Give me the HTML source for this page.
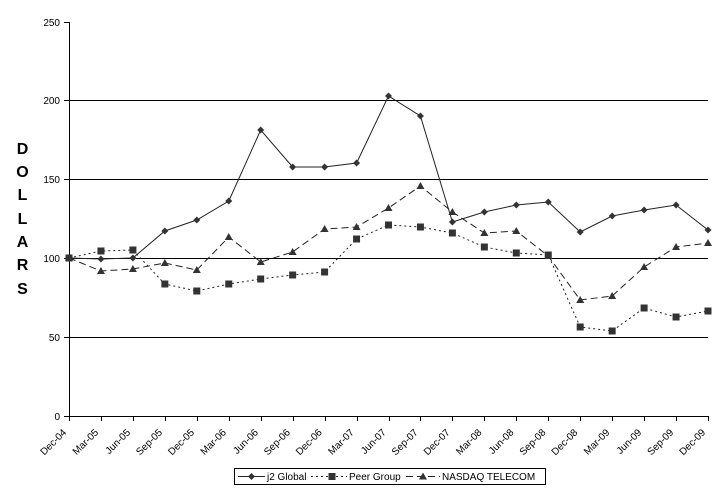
<!DOCTYPE html>
<html><head><meta charset="utf-8"><style>
html,body{margin:0;padding:0;background:#fff;}
svg{display:block;font-family:"Liberation Sans",Arial,sans-serif;}
</style></head><body>
<svg width="721" height="493" viewBox="0 0 721 493" xmlns="http://www.w3.org/2000/svg">
<rect width="721" height="493" fill="#fff"/>
<!-- DOLLARS -->
<g font-weight="bold" font-size="16" text-anchor="middle" fill="#000">
<text x="22.5" y="154">D</text>
<text x="22.5" y="177">O</text>
<text x="22.5" y="200">L</text>
<text x="22.5" y="224">L</text>
<text x="22.5" y="247">A</text>
<text x="22.5" y="270">R</text>
<text x="22.5" y="294">S</text>
</g>
<!-- gridlines -->
<g stroke="#000" stroke-width="1">
<line x1="69" y1="100.5" x2="708" y2="100.5"/>
<line x1="69" y1="179.5" x2="708" y2="179.5"/>
<line x1="69" y1="258.5" x2="708" y2="258.5"/>
<line x1="69" y1="337.5" x2="708" y2="337.5"/>
<line x1="69.5" y1="22" x2="69.5" y2="416"/>
<line x1="69" y1="416.5" x2="708" y2="416.5"/>
<line x1="64" y1="22.5" x2="69" y2="22.5"/>
<line x1="64" y1="100.5" x2="69" y2="100.5"/>
<line x1="64" y1="179.5" x2="69" y2="179.5"/>
<line x1="64" y1="258.5" x2="69" y2="258.5"/>
<line x1="64" y1="337.5" x2="69" y2="337.5"/>
<line x1="64" y1="416.5" x2="69" y2="416.5"/>
</g>
<g id="xticks" stroke="#000" stroke-width="1"></g>
<g font-size="10" text-anchor="end" fill="#000">
<text x="60" y="26">250</text>
<text x="60" y="104">200</text>
<text x="60" y="183">150</text>
<text x="60" y="262">100</text>
<text x="60" y="341">50</text>
<text x="60" y="420">0</text>
</g>
<g id="xlabels" font-size="10" text-anchor="end" fill="#000"></g>
<g id="series"></g>
<!-- legend -->
<rect x="234.5" y="468.5" width="311" height="16" fill="#fff" stroke="#000" stroke-width="1"/>
<line x1="238" y1="476.5" x2="265" y2="476.5" stroke="#222" stroke-width="1"/>
<polygon points="251.5,473 255,476.5 251.5,480 248,476.5" fill="#333"/>
<text x="267" y="480" font-size="10" fill="#000">j2 Global</text>
<line x1="311" y1="476.5" x2="347" y2="476.5" stroke="#222" stroke-width="1" stroke-dasharray="2,3"/>
<rect x="328.5" y="473" width="7" height="7" fill="#333"/>
<text x="349" y="480" font-size="10" fill="#000">Peer Group</text>
<line x1="406" y1="476.5" x2="440" y2="476.5" stroke="#222" stroke-width="1" stroke-dasharray="7,4"/>
<polygon points="423,472.5 427,479.5 419,479.5" fill="#333"/>
<text x="442" y="480" font-size="10" fill="#000">NASDAQ TELECOM</text>
</svg>
<script>
(function(){
var NS="http://www.w3.org/2000/svg";
var labels=["Dec-04","Mar-05","Jun-05","Sep-05","Dec-05","Mar-06","Jun-06","Sep-06","Dec-06","Mar-07","Jun-07","Sep-07","Dec-07","Mar-08","Jun-08","Sep-08","Dec-08","Mar-09","Jun-09","Sep-09","Dec-09"];
function X(i){return 69+i*31.95;}
var xt=document.getElementById("xticks"),xl=document.getElementById("xlabels");
for(var i=0;i<21;i++){
 var x=Math.round(X(i))+0.5;
 var l=document.createElementNS(NS,"line");
 l.setAttribute("x1",x);l.setAttribute("x2",x);l.setAttribute("y1",416);l.setAttribute("y2",421);
 xt.appendChild(l);
 var t=document.createElementNS(NS,"text");
 var tx=X(i)-2, ty=433;
 t.setAttribute("x",tx);t.setAttribute("y",ty);
 t.setAttribute("transform","rotate(-45 "+tx+" "+ty+")");
 t.textContent=labels[i];
 xl.appendChild(t);
}
var j2=[258,259,258,231,220,201,130,167,167,163,96,116,222,212,205,202,232,216,210,205,230];
var peer=[258,251,250,284,291,284,279,275,272,239,225,227,233,247,253,255,327,331,308,317,311];
var nas=[258,271,269,263,270,237,262,252,229,227,208,186,212,233,231,256,300,296,267,247,243];
var s=document.getElementById("series");
function line(d,dash){
 var p=document.createElementNS(NS,"polyline");
 var pts=d.map(function(y,i){return X(i).toFixed(1)+","+y;}).join(" ");
 p.setAttribute("points",pts);p.setAttribute("fill","none");p.setAttribute("stroke","#222");p.setAttribute("stroke-width","1");
 if(dash)p.setAttribute("stroke-dasharray",dash);
 s.appendChild(p);
}
line(nas,"7,4");line(peer,"2,3");line(j2,null);
function poly(pts){var p=document.createElementNS(NS,"polygon");p.setAttribute("points",pts);p.setAttribute("fill","#333");s.appendChild(p);}
nas.forEach(function(y,i){var x=X(i);poly((x)+","+(y-4)+" "+(x+4)+","+(y+3)+" "+(x-4)+","+(y+3));});
peer.forEach(function(y,i){var x=X(i);var r=document.createElementNS(NS,"rect");r.setAttribute("x",x-3.5);r.setAttribute("y",y-3.5);r.setAttribute("width",7);r.setAttribute("height",7);r.setAttribute("fill","#333");s.appendChild(r);});
j2.forEach(function(y,i){var x=X(i);poly(x+","+(y-3.5)+" "+(x+3.5)+","+y+" "+x+","+(y+3.5)+" "+(x-3.5)+","+y);});
})();
</script>
</body></html>
